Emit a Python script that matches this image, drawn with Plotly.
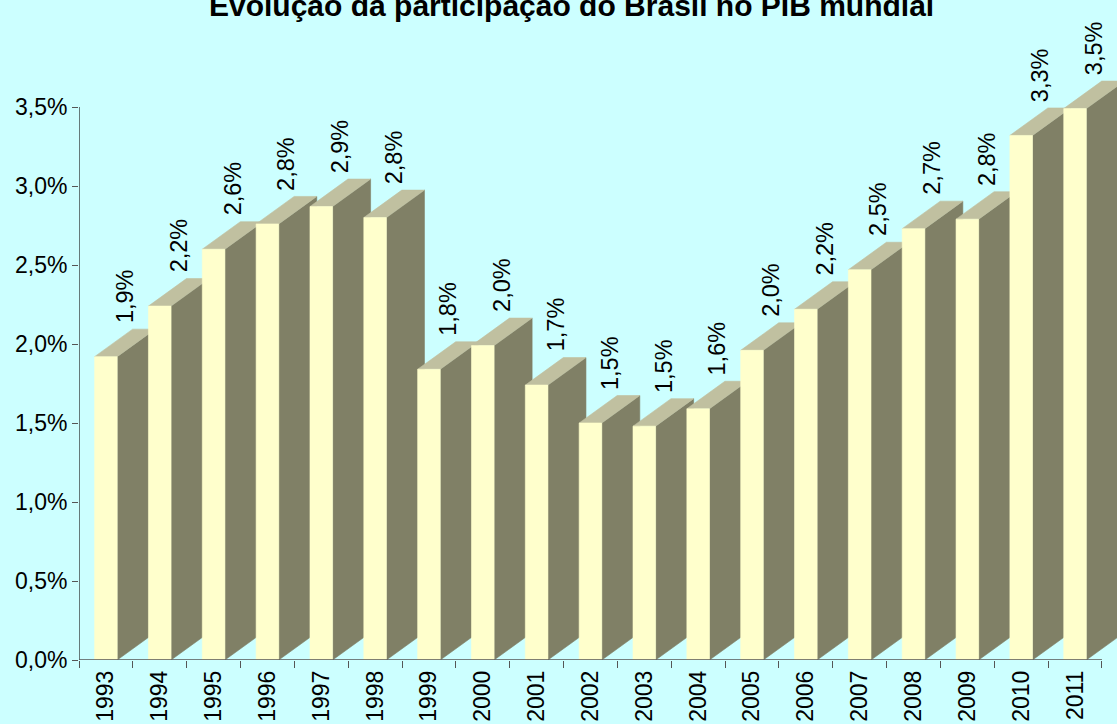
import plotly.graph_objects as go

# ---- data ----
years = [str(y) for y in range(1993, 2012)]
shares = [1.92, 2.24, 2.60, 2.76, 2.87, 2.80, 1.84, 1.99, 1.74, 1.50,
          1.48, 1.59, 1.96, 2.22, 2.47, 2.73, 2.79, 3.32, 3.49]
value_labels = ["1,9%", "2,2%", "2,6%", "2,8%", "2,9%", "2,8%", "1,8%", "2,0%",
                "1,7%", "1,5%", "1,5%", "1,6%", "2,0%", "2,2%", "2,5%", "2,7%",
                "2,8%", "3,3%", "3,5%"]
y_tick_vals = [0.0, 0.5, 1.0, 1.5, 2.0, 2.5, 3.0, 3.5]
y_tick_text = ["0,0%", "0,5%", "1,0%", "1,5%", "2,0%", "2,5%", "3,0%", "3,5%"]
title_text = "Evolução da participação do Brasil no PIB mundial"

# ---- style ----
W = 0.42      # front face width (category units)
DX = 0.706    # 3D depth offset, x (category units)
DY = 0.174    # 3D depth offset, y (percent units)
FRONT = "#FFFFCC"
SIDE = "#808066"
TOP = "#C0C0A0"
BG = "#CCFFFF"
FONT = "Arial, Liberation Sans, sans-serif"
FS = 23
FS_LAB = 23.5

n = len(shares)
xs = list(range(n))

side_x, side_y, top_x, top_y, front_x, front_y = [], [], [], [], [], []
for i, v in zip(xs, shares):
    xl, xr = i - W / 2, i + W / 2
    side_x += [xr, xr + DX, xr + DX, xr, xr, None]
    side_y += [0, DY, v + DY, v, 0, None]
    top_x += [xl, xr, xr + DX, xl + DX, xl, None]
    top_y += [v, v, v + DY, v + DY, v, None]
    front_x += [xl, xr, xr, xl, xl, None]
    front_y += [0, 0, v, v, 0, None]

fig = go.Figure()
for px, py, col in [(side_x, side_y, SIDE), (top_x, top_y, TOP), (front_x, front_y, FRONT)]:
    fig.add_trace(go.Scatter(x=px, y=py, mode="lines", fill="toself", fillcolor=col,
                             line=dict(color=col, width=0.6), hoverinfo="skip",
                             showlegend=False))

annotations = []
for i, v, t in zip(xs, shares, value_labels):
    annotations.append(dict(x=i + DX / 2, y=v + DY, xref="x", yref="y", text=t,
                            textangle=-90, showarrow=False, xanchor="center",
                            yanchor="bottom", yshift=4,
                            font=dict(family=FONT, size=FS_LAB, color="black")))
annotations.append(dict(x=0.4745, y=1, xref="paper", yref="paper",
                        text="<b>" + title_text + "</b>", showarrow=False,
                        xanchor="center", yanchor="top", yshift=13,
                        font=dict(family=FONT, size=30, color="black")))

shapes = [
    dict(type="line", xref="x", yref="y", x0=-0.5, x1=-0.5, y0=0, y1=3.5,
         line=dict(color="#202020", width=1.2)),
    dict(type="line", xref="x", yref="y", x0=-0.5, x1=n - 0.5, y0=0, y1=0,
         line=dict(color="#555555", width=1.5)),
]

plot_w = 1117 - 79
cat_px = 53.84
fig.update_layout(
    width=1117, height=724,
    margin=dict(l=79, r=0, t=0, b=64, pad=0, autoexpand=False),
    paper_bgcolor=BG, plot_bgcolor=BG,
    font=dict(family=FONT, size=FS, color="black"),
    annotations=annotations, shapes=shapes,
    xaxis=dict(range=[-0.5, -0.5 + plot_w / cat_px], showgrid=False, zeroline=False,
               showline=False, automargin=False, tickmode="array", tickvals=xs,
               ticktext=years, tickangle=-90, ticks="", ticklabelstandoff=5,
               tickfont=dict(family=FONT, size=FS, color="black"),
               minor=dict(tickmode="array", tickvals=[i - 0.5 for i in range(n + 1)],
                          ticks="outside", ticklen=7, tickwidth=1.2,
                          tickcolor="#555555", showgrid=False)),
    yaxis=dict(range=[0, 3.5 * 660 / 553], showgrid=False, zeroline=False,
               showline=False, automargin=False, tickmode="array",
               tickvals=y_tick_vals, ticktext=y_tick_text, ticks="outside",
               ticklen=6, tickwidth=1.2, tickcolor="#555555", ticklabelstandoff=0,
               tickfont=dict(family=FONT, size=FS, color="black")),
)

fig.write_html("out.html", config={"displayModeBar": False},
               post_script="document.body.style.margin='0';")
